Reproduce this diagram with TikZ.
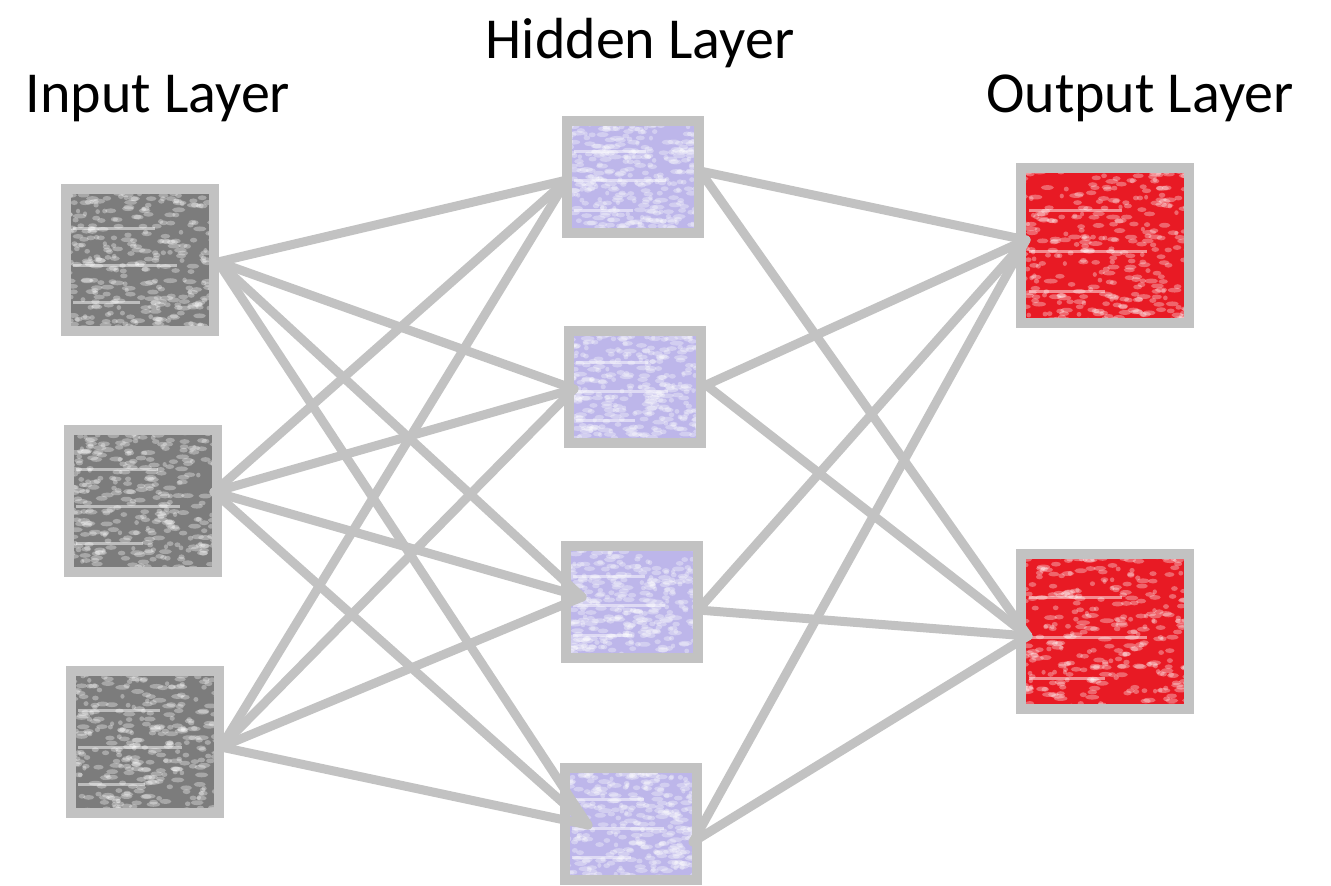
\documentclass[tikz,border=0pt]{standalone}
\usepackage{fontspec}
\setmainfont{Carlito}
\usetikzlibrary{calc}
\definecolor{edgegray}{HTML}{C2C2C2}
\definecolor{ingray}{HTML}{7C7C7C}
\definecolor{hidlav}{HTML}{BDB6EA}
\definecolor{outred}{HTML}{E81A24}
\tikzset{
  cell/.style={draw=edgegray, line width=10pt, inner sep=0pt, minimum width=#1},
  mottle/.style={path picture={
    \foreach \k in {1,...,320}{
      \pgfmathsetmacro\rx{rnd}
      \pgfmathsetmacro\ry{rnd}
      \pgfmathsetmacro\rw{2+5*rnd}
      \fill[white,opacity=0.33] let \p1=(path picture bounding box.south west), \p2=(path picture bounding box.north east) in
        ({\x1+\rx*(\x2-\x1)},{\y1+\ry*(\y2-\y1)}) ellipse[x radius=\rw pt, y radius=2.4pt];
    }
    \foreach \f/\l in {0.46/0.75,0.2/0.5,0.72/0.6}{
      \draw[white,opacity=0.5,line width=3pt] let \p1=(path picture bounding box.south west), \p2=(path picture bounding box.north east) in
        ({\x1+0.05*(\x2-\x1)},{\y1+\f*(\y2-\y1)}) -- ({\x1+\l*(\x2-\x1)},{\y1+\f*(\y2-\y1)});
    }
  }},
  inbox/.style={cell=148pt, minimum height=142pt, fill=ingray, mottle},
  hidbox/.style={cell=132pt, minimum height=112pt, fill=hidlav, mottle},
  outbox/.style={cell=168pt, minimum height=155pt, fill=outred, mottle},
  link/.style={draw=edgegray, line width=9pt, line cap=round},
  title/.style={font=\fontsize{58}{60}\selectfont, anchor=base, text=black}
}
\begin{document}
\begin{tikzpicture}[x=1pt,y=-1pt]
\pgfmathsetseed{4242}
\useasboundingbox (0,0) rectangle (1331,886);
% titles
\node[title] (tin) at (158,112) {Input Layer};
\node[title] (thid) at (640,58) {Hidden Layer};
\node[title] (tout) at (1140,112) {Output Layer};
% input layer
\node[inbox] (I1) at (140,259.5) {};
\node[inbox] (I2) at (143,500.5) {};
\node[inbox] (I3) at (145,741.5) {};
% hidden layer
\node[hidbox] (H1) at (633,176.5) {};
\node[hidbox] (H2) at (635,387) {};
\node[hidbox] (H3) at (632,601.5) {};
\node[hidbox] (H4) at (631,824) {};
% output layer
\node[outbox] (O1) at (1105,245) {};
\node[outbox] (O2) at (1105,631.5) {};
% ports
\coordinate (I1r) at (218,262);
\coordinate (I2r) at (214,492);
\coordinate (I3r) at (221,747);
\coordinate (H1l) at (567,180);
\coordinate (H2l) at (574,389);
\coordinate (H3l) at (582,597);
\coordinate (H4l) at (588,825);
\coordinate (H1r) at (700,171);
\coordinate (H2r) at (706,385);
\coordinate (H3r) at (698,610);
\coordinate (H4r) at (693,842);
\coordinate (O1l) at (1026,240);
\coordinate (O2l) at (1028,636);
% connections
\foreach \a in {I1r,I2r,I3r}{
  \foreach \b in {H1l,H2l,H3l,H4l}{
    \draw[link] (\a) -- (\b);
  }
}
\foreach \a in {H1r,H2r,H3r,H4r}{
  \foreach \b in {O1l,O2l}{
    \draw[link] (\a) -- (\b);
  }
}
\end{tikzpicture}
\end{document}
